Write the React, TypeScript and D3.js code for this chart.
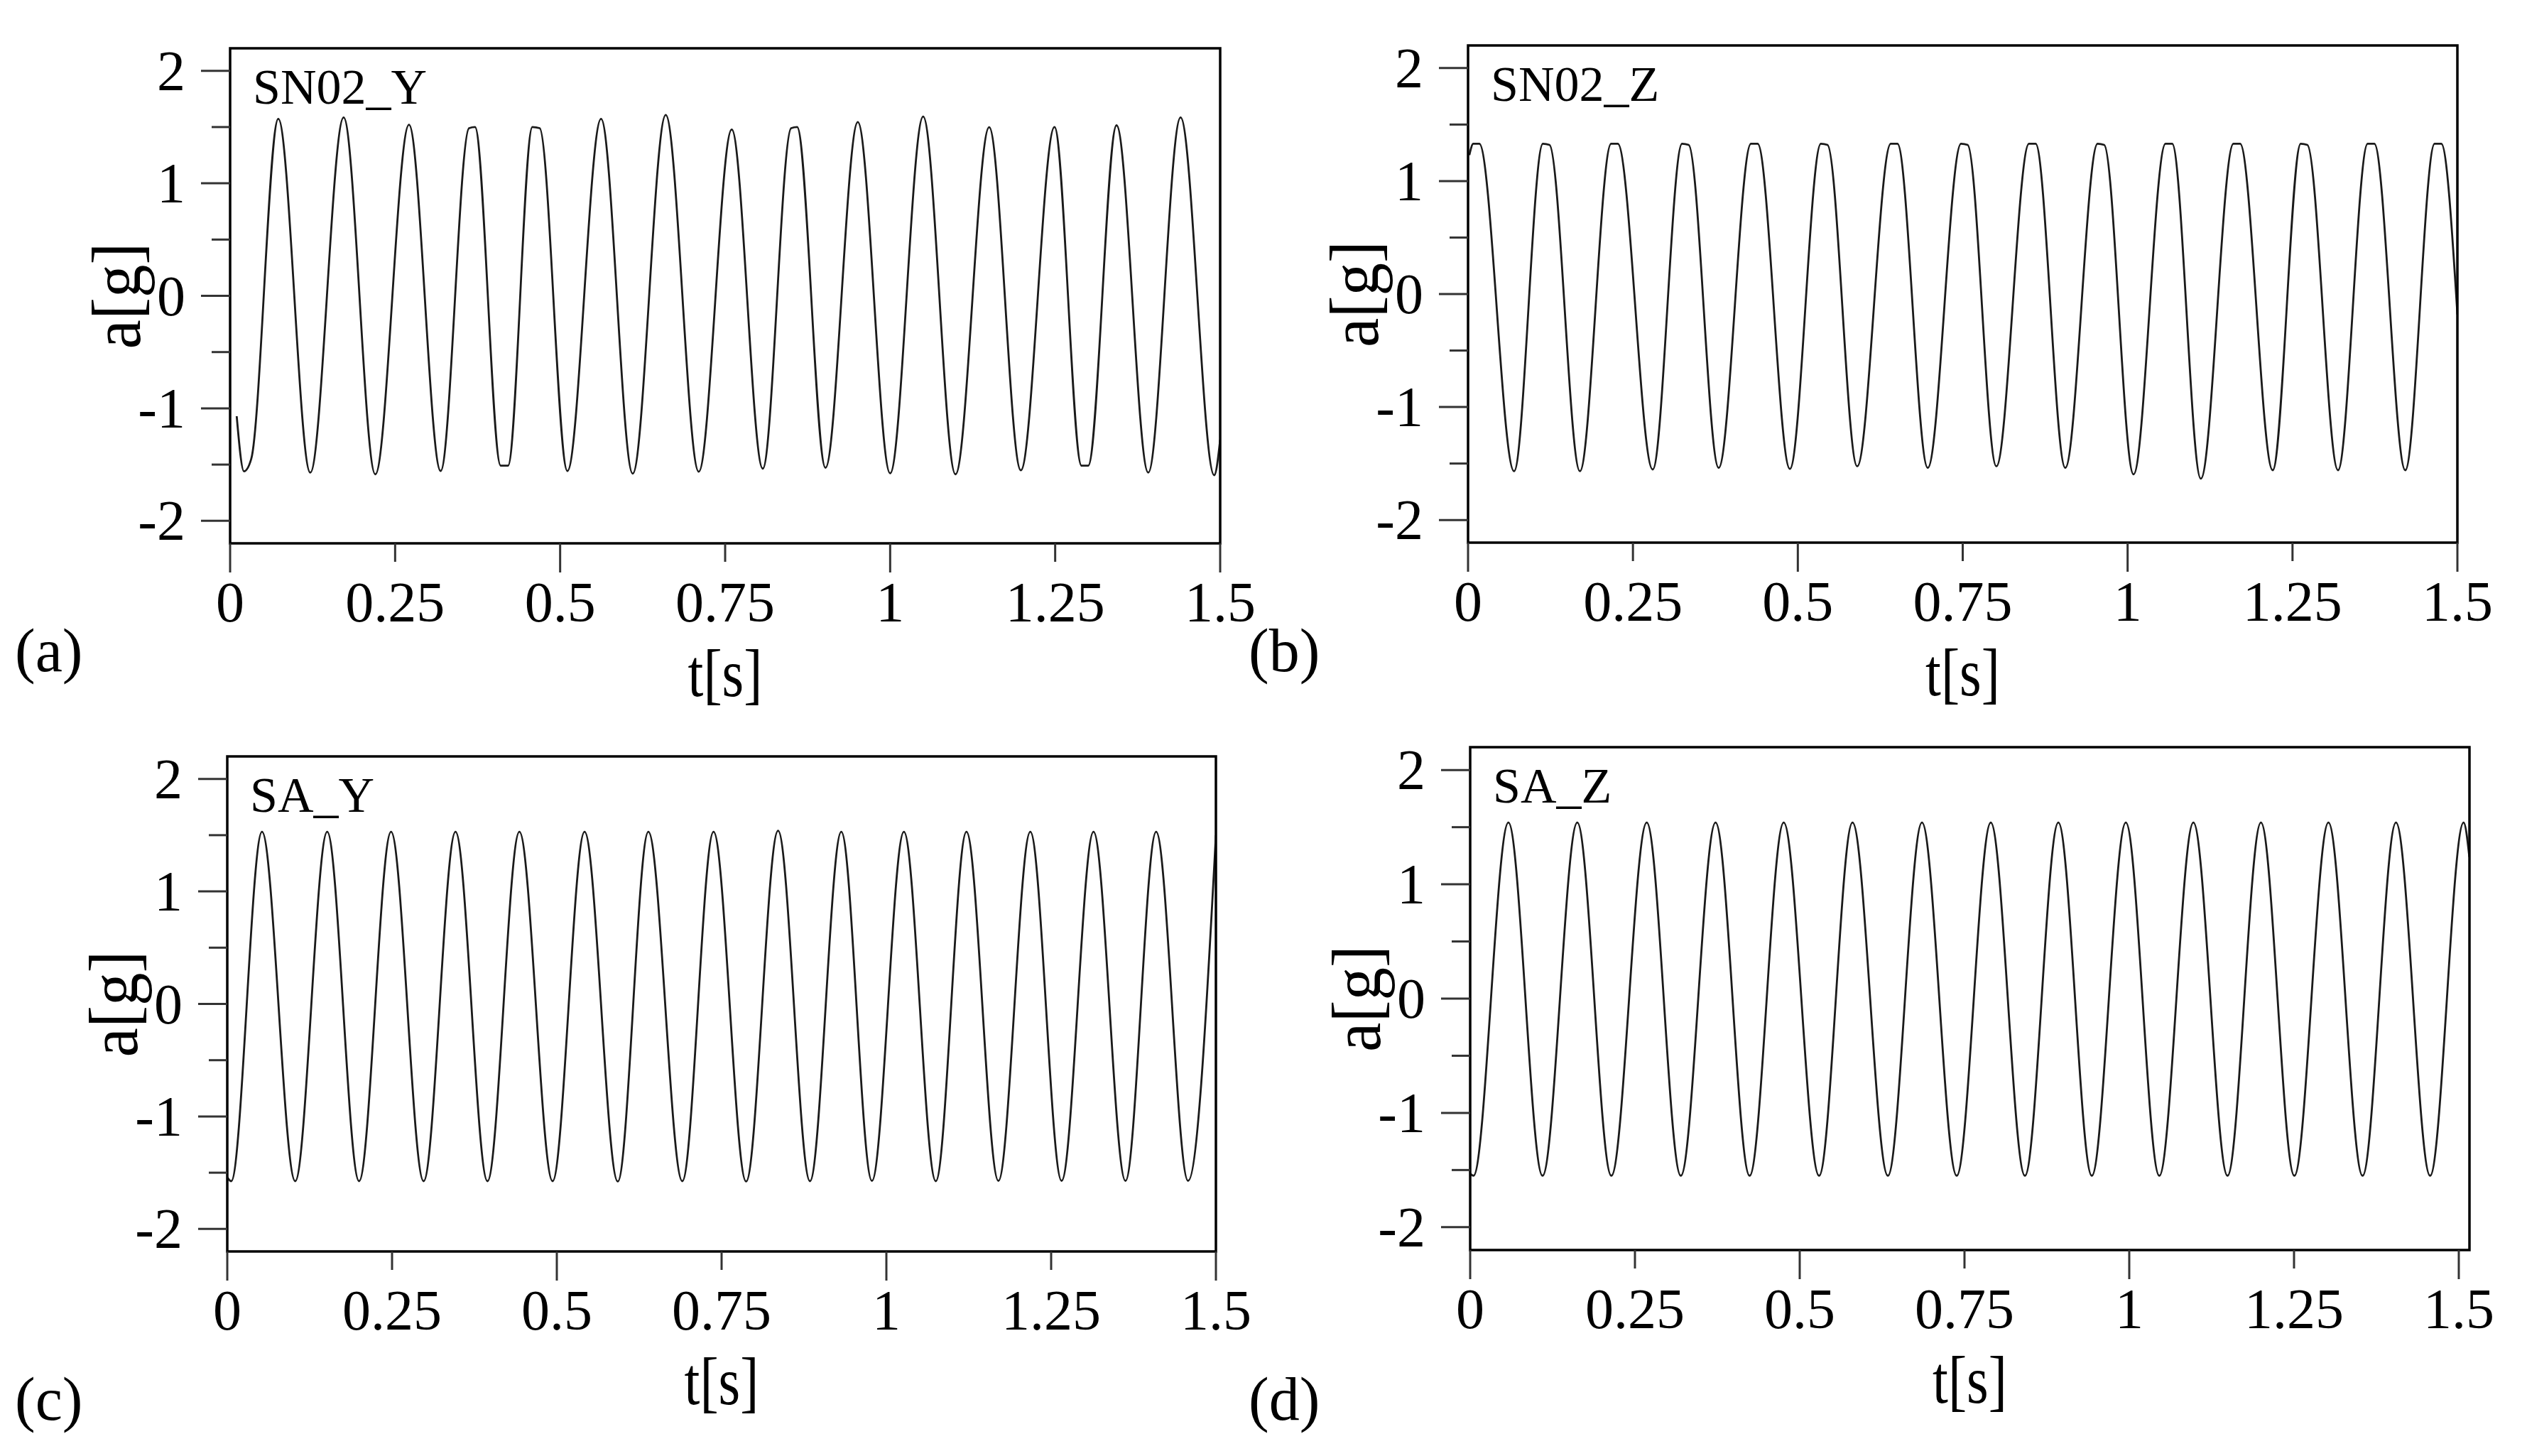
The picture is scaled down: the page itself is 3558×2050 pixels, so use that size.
import React from "react";
import * as d3 from "d3";

const W = 3558;
const H = 2050;

// ---- data: extrema / turning points (t in s, a in g) ----
const sn02YTime = [0.010, 0.021, 0.032, 0.073, 0.1215, 0.172, 0.220, 0.271, 0.319, 0.362, 0.371, 0.410, 0.421, 0.458, 0.469, 0.511, 0.562, 0.610, 0.660, 0.710, 0.760, 0.807, 0.850, 0.859, 0.902, 0.951, 1.000, 1.050, 1.099, 1.150, 1.198, 1.249, 1.290, 1.300, 1.343, 1.391, 1.440, 1.491, 1.500];
const sn02YAccel = [-1.07, -1.56, -1.45, 1.573, -1.571, 1.585, -1.586, 1.521, -1.557, 1.49, 1.50, -1.51, -1.51, 1.50, 1.49, -1.557, 1.573, -1.580, 1.608, -1.563, 1.478, -1.536, 1.49, 1.50, -1.528, 1.544, -1.577, 1.593, -1.586, 1.498, -1.551, 1.50, -1.51, -1.51, 1.515, -1.571, 1.585, -1.594, -1.28];

const sn02ZTime = [0.002, 0.008, 0.017, 0.0698, 0.1135, 0.1235, 0.1696, 0.217, 0.227, 0.280, 0.3245, 0.3345, 0.380, 0.429, 0.439, 0.488, 0.535, 0.545, 0.590, 0.641, 0.651, 0.697, 0.7475, 0.7575, 0.801, 0.8505, 0.8605, 0.9055, 0.9545, 0.9645, 1.009, 1.0575, 1.0675, 1.111, 1.1605, 1.1705, 1.220, 1.2625, 1.2725, 1.319, 1.364, 1.374, 1.421, 1.4655, 1.4755, 1.500];
const sn02ZAccel = [1.23, 1.33, 1.33, -1.567, 1.33, 1.32, -1.567, 1.33, 1.33, -1.553, 1.33, 1.32, -1.538, 1.33, 1.33, -1.547, 1.33, 1.32, -1.524, 1.33, 1.33, -1.538, 1.33, 1.32, -1.524, 1.33, 1.33, -1.538, 1.33, 1.32, -1.596, 1.33, 1.33, -1.634, 1.33, 1.33, -1.559, 1.33, 1.32, -1.559, 1.33, 1.33, -1.559, 1.33, 1.33, -0.18];

const saYTime = [0.000, 0.006, 0.0527, 0.1031, 0.1516, 0.2000, 0.2485, 0.2979, 0.3463, 0.3948, 0.4432, 0.4936, 0.5421, 0.5925, 0.6389, 0.6904, 0.7378, 0.7872, 0.8357, 0.8841, 0.9316, 0.9781, 1.0266, 1.0750, 1.1215, 1.1700, 1.2184, 1.2659, 1.3143, 1.3628, 1.4093, 1.4578, 1.500];
const saYAccel = [-1.54, -1.575, 1.53, -1.575, 1.53, -1.575, 1.53, -1.575, 1.53, -1.575, 1.53, -1.575, 1.53, -1.578, 1.53, -1.575, 1.53, -1.578, 1.54, -1.575, 1.53, -1.572, 1.53, -1.575, 1.53, -1.572, 1.53, -1.572, 1.53, -1.572, 1.53, -1.572, 1.50];

const saZTime = [0.000, 0.005, 0.0580, 0.1098, 0.1625, 0.2142, 0.2679, 0.3196, 0.3723, 0.4240, 0.4757, 0.5294, 0.5801, 0.6338, 0.6855, 0.7382, 0.7899, 0.8417, 0.8924, 0.9432, 0.9948, 1.0456, 1.0973, 1.1491, 1.1998, 1.2505, 1.3022, 1.3540, 1.4047, 1.4565, 1.5073, 1.516];
const saZAccel = [-1.53, -1.55, 1.54, -1.55, 1.54, -1.55, 1.54, -1.55, 1.54, -1.55, 1.54, -1.55, 1.54, -1.55, 1.54, -1.55, 1.54, -1.55, 1.54, -1.55, 1.54, -1.55, 1.54, -1.55, 1.54, -1.55, 1.54, -1.55, 1.54, -1.55, 1.54, 1.24];

const xTickValues = [0, 0.25, 0.5, 0.75, 1, 1.25, 1.5];
const xTickLabels = ["0", "0.25", "0.5", "0.75", "1", "1.25", "1.5"];
const xMajorValues = [0, 0.5, 1, 1.5];
const yTickValues = [-2, -1, 0, 1, 2];
const yTickLabels = ["-2", "-1", "0", "1", "2"];
const yMinorValues = [-1.5, -0.5, 0.5, 1.5];
const yDomain = [-2.2, 2.2];
const sensorNames = ["SN02_Y", "SN02_Z", "SA_Y", "SA_Z"];
const panelTags = ["(a)", "(b)", "(c)", "(d)"];
const xTitle = "t[s]";
const yTitle = "a[g]";

// ---- layout ----
const panels = [
  { left: 324, right: 1718, top: 68, bottom: 765, xMax: 1.5, tagX: 21, tagDy: 180, t: sn02YTime, a: sn02YAccel },
  { left: 2067, right: 3460, top: 64, bottom: 764, xMax: 1.5, tagX: 1758, tagDy: 181, t: sn02ZTime, a: sn02ZAccel },
  { left: 320, right: 1712, top: 1065, bottom: 1762, xMax: 1.5, tagX: 21, tagDy: 237, t: saYTime, a: saYAccel },
  { left: 2070, right: 3477, top: 1052, bottom: 1760, xMax: 1.5162, tagX: 1758, tagDy: 239, t: saZTime, a: saZAccel },
];

const FONT = "'Liberation Serif', 'Times New Roman', serif";

function Panel({ p, i }: { p: any; i: number }) {
  const x = d3.scaleLinear().domain([0, p.xMax]).range([p.left, p.right]);
  const y = d3.scaleLinear().domain(yDomain).range([p.bottom, p.top]);
  const pts: [number, number][] = p.t.map((t: number, k: number) => [t, p.a[k]]);
  const line = d3
    .line<[number, number]>()
    .x((d) => x(d[0]))
    .y((d) => y(d[1]))
    .curve(d3.curveMonotoneX);
  const clipId = `clip-${i}`;
  const cx = (p.left + p.right) / 2;
  const cy = (p.top + p.bottom) / 2;
  return (
    <g>
      <defs>
        <clipPath id={clipId}>
          <rect x={p.left} y={p.top} width={p.right - p.left} height={p.bottom - p.top} />
        </clipPath>
      </defs>
      <path d={line(pts) || ""} fill="none" stroke="#1a1a1a" strokeWidth={2.8} strokeLinejoin="round" clipPath={`url(#${clipId})`} />
      <rect x={p.left} y={p.top} width={p.right - p.left} height={p.bottom - p.top} fill="none" stroke="#000" strokeWidth={3.5} />
      {yTickValues.map((v) => (
        <line key={`ym${v}`} x1={p.left - 41} x2={p.left} y1={y(v)} y2={y(v)} stroke="#333" strokeWidth={3} />
      ))}
      {yMinorValues.map((v) => (
        <line key={`yn${v}`} x1={p.left - 26} x2={p.left} y1={y(v)} y2={y(v)} stroke="#333" strokeWidth={3} />
      ))}
      {yTickValues.map((v, k) => (
        <text key={`yl${v}`} x={p.left - 63} y={y(v) + 27} textAnchor="end" fontFamily={FONT} fontSize={80} fill="#000">
          {yTickLabels[k]}
        </text>
      ))}
      {xTickValues.map((v) => {
        const major = xMajorValues.includes(v);
        return (
          <line key={`xt${v}`} x1={x(v)} x2={x(v)} y1={p.bottom} y2={p.bottom + (major ? 41 : 26)} stroke="#333" strokeWidth={3} />
        );
      })}
      {xTickValues.map((v, k) => (
        <text key={`xl${v}`} x={x(v)} y={p.bottom + 110} textAnchor="middle" fontFamily={FONT} fontSize={80} fill="#000">
          {xTickLabels[k]}
        </text>
      ))}
      <text transform={`translate(${cx},${p.bottom + 215}) scale(0.82,1)`} textAnchor="middle" fontFamily={FONT} fontSize={96} fill="#000">
        {xTitle}
      </text>
      <text transform={`translate(${p.left - 127},${cy}) rotate(-90) scale(0.95,1)`} textAnchor="middle" fontFamily={FONT} fontSize={98} fill="#000">
        {yTitle}
      </text>
      <text x={p.left + 32} y={p.top + 78} fontFamily={FONT} fontSize={70} fill="#000">
        {sensorNames[i]}
      </text>
      <text x={p.tagX} y={p.bottom + p.tagDy} fontFamily={FONT} fontSize={86} fill="#000">
        {panelTags[i]}
      </text>
    </g>
  );
}

export default function App() {
  return (
    <svg
      width={W}
      height={H}
      viewBox={`0 0 ${W} ${H}`}
      style={{ position: "absolute", left: 0, top: 0, display: "block", background: "#fff" }}
    >
      <rect x={0} y={0} width={W} height={H} fill="#fff" />
      {panels.map((p, i) => (
        <Panel key={i} p={p} i={i} />
      ))}
    </svg>
  );
}
